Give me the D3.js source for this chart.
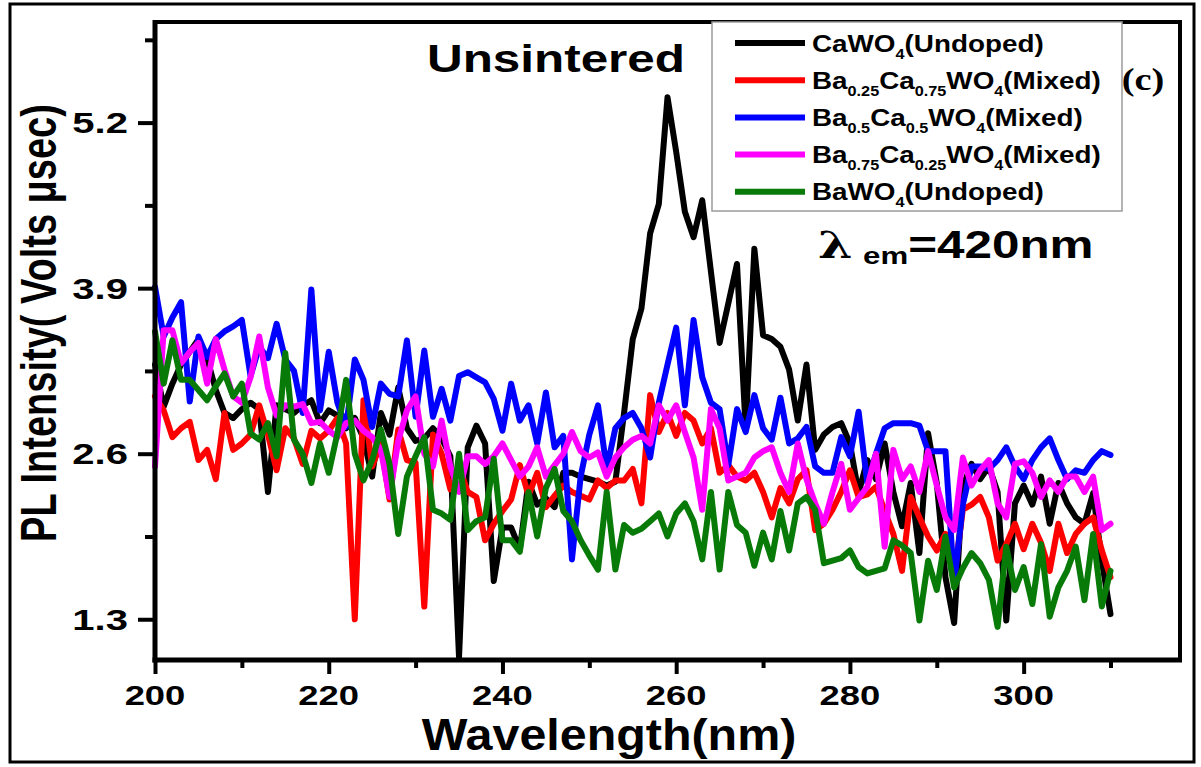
<!DOCTYPE html>
<html>
<head>
<meta charset="utf-8">
<script src="https://cdn.jsdelivr.net/npm/d3@7"></script>
<style>
  body { margin: 0; background: #fff; }
  svg { display: block; }
  text { font-family: "Liberation Sans", Arial, sans-serif; font-weight: bold; fill: #000; }
</style>
</head>
<body>
<svg id="chart" width="1201" height="767"></svg>
<script>
// Excitation wavelengths, 1 nm steps from 200 to 310 nm
const wavelengths = d3.range(200, 311);

// PL intensity (Volts µsec) for each sample, one value per wavelength
const caWO4 = [
  3.30, 2.97, 3.15, 3.30, 3.40, 3.50, 3.35, 3.10, 2.92, 2.88,
  2.95, 3.00, 2.95, 2.30, 2.98, 2.95, 2.92, 2.98, 3.02, 2.84,
  2.94, 2.90, 2.80, 2.88, 2.72, 2.42, 2.92, 2.75, 3.12, 2.80,
  2.70, 2.72, 2.80, 2.72, 2.58, 1.00, 2.65, 2.82, 2.68, 1.60,
  2.02, 2.02, 1.85, 2.38, 2.20, 2.25, 2.18, 2.45, 2.45, 2.42,
  2.40, 2.38, 2.35, 2.38, 2.92, 3.50, 3.74, 4.33, 4.56, 5.40,
  4.97, 4.50, 4.30, 4.59, 4.03, 3.47, 3.78, 4.09, 2.80, 4.21,
  3.53, 3.50, 3.44, 3.26, 2.86, 3.30, 2.63, 2.75, 2.81, 2.84,
  2.68, 2.29, 2.55, 2.40, 2.68, 2.30, 2.03, 2.37, 1.82, 2.76,
  2.37, 1.63, 1.27, 2.34, 2.52, 2.40, 2.50, 2.30, 1.29, 2.21,
  2.35, 2.20, 2.42, 2.05, 2.37, 2.21, 2.10, 2.05, 2.29, 1.76,
  1.34
];
const ba025 = [
  3.05, 2.94, 2.73, 2.80, 2.85, 2.55, 2.63, 2.40, 2.92, 2.63,
  2.68, 2.75, 2.98, 2.75, 2.47, 2.80, 2.72, 2.52, 2.78, 2.72,
  2.78, 2.88, 2.68, 1.30, 3.02, 2.50, 2.68, 2.24, 2.79, 2.55,
  2.53, 1.40, 2.75, 2.60, 2.32, 2.50, 2.30, 2.26, 1.92, 2.05,
  2.15, 2.24, 2.51, 2.27, 2.45, 2.18, 2.27, 2.35, 2.30, 2.27,
  2.24, 2.39, 2.33, 2.39, 2.39, 2.48, 2.21, 3.06, 2.77, 2.92,
  2.74, 2.92, 2.86, 2.68, 2.80, 2.45, 2.51, 2.42, 2.39, 2.45,
  2.30, 2.10, 2.33, 2.21, 2.40, 2.47, 2.00, 2.05, 2.16, 2.30,
  2.47, 2.26, 2.28, 2.34, 2.15, 1.97, 1.68, 2.26, 2.10, 1.95,
  1.84, 1.97, 1.63, 2.16, 2.20, 2.26, 2.10, 1.76, 1.89, 2.05,
  1.85, 2.05, 1.90, 1.68, 2.05, 1.82, 1.97, 2.05, 2.10, 1.84,
  1.63
];
const ba05 = [
  3.91, 3.52, 3.67, 3.79, 3.01, 3.52, 3.36, 3.50, 3.56, 3.60,
  3.65, 3.21, 3.44, 3.35, 3.62, 3.34, 3.25, 2.92, 3.89, 2.94,
  3.40, 3.00, 2.81, 3.34, 3.18, 2.81, 3.15, 3.07, 3.05, 3.49,
  2.89, 3.41, 2.89, 3.11, 2.86, 3.21, 3.24, 3.20, 3.16, 3.03,
  2.78, 3.15, 2.86, 2.98, 2.68, 3.08, 2.65, 2.74, 1.77, 2.42,
  2.75, 2.98, 2.48, 2.80, 2.88, 2.92, 2.80, 2.57, 3.00, 3.30,
  3.59, 2.98, 3.65, 3.20, 3.00, 2.95, 2.51, 2.95, 2.77, 3.06,
  2.80, 2.71, 3.04, 2.68, 2.72, 2.81, 2.50, 2.45, 2.45, 2.73,
  2.58, 2.93, 2.37, 2.60, 2.80, 2.84, 2.84, 2.84, 2.82, 2.62,
  2.62, 2.62, 1.58, 2.20, 2.50, 2.50, 2.48, 2.55, 2.65, 2.50,
  2.40, 2.55, 2.65, 2.72, 2.55, 2.40, 2.47, 2.45, 2.55, 2.62,
  2.59
];
const ba075 = [
  2.50, 3.57, 3.57, 3.31, 3.40, 3.47, 3.15, 3.50, 3.26, 3.05,
  3.00, 3.20, 3.52, 3.12, 2.90, 2.98, 2.97, 2.99, 2.84, 2.85,
  2.78, 2.73, 2.84, 2.86, 2.78, 2.73, 2.63, 2.26, 2.70, 2.94,
  3.05, 2.60, 2.50, 2.86, 2.50, 2.30, 2.58, 2.58, 2.52, 2.58,
  2.68, 2.55, 2.42, 2.50, 2.65, 2.42, 2.51, 2.60, 2.77, 2.62,
  2.57, 2.61, 2.42, 2.57, 2.65, 2.71, 2.74, 2.68, 2.98, 2.86,
  2.98, 2.77, 2.57, 2.16, 2.95, 2.80, 2.39, 2.42, 2.45, 2.57,
  2.62, 2.65, 2.45, 2.30, 2.68, 2.40, 2.21, 2.05, 2.30, 2.52,
  2.16, 2.25, 2.34, 2.60, 1.87, 2.63, 2.40, 2.50, 2.30, 2.62,
  2.35, 2.10, 2.00, 2.57, 2.35, 2.47, 2.55, 2.21, 2.10, 2.52,
  2.54, 2.45, 2.26, 2.39, 2.30, 2.42, 2.42, 2.30, 2.42, 2.00,
  2.05
];
const baWO4 = [
  3.56, 3.15, 3.49, 3.18, 3.18, 3.10, 3.02, 3.13, 3.23, 3.05,
  3.15, 2.76, 2.71, 2.84, 2.58, 3.39, 2.71, 2.60, 2.37, 2.68,
  2.45, 2.76, 3.18, 2.60, 2.39, 2.55, 2.79, 2.52, 1.97, 2.42,
  2.58, 2.73, 2.16, 2.13, 2.08, 2.60, 2.00, 2.07, 2.10, 2.56,
  1.92, 1.92, 1.83, 2.30, 1.95, 2.33, 2.48, 2.15, 2.07, 1.92,
  1.80, 1.69, 2.30, 1.69, 2.04, 1.98, 2.01, 2.07, 2.13, 1.95,
  2.13, 2.21, 2.07, 1.77, 2.30, 1.69, 2.30, 2.04, 1.98, 1.72,
  1.98, 1.77, 2.15, 1.84, 2.21, 2.26, 2.16, 1.74, 1.76, 1.78,
  1.84, 1.71, 1.66, 1.68, 1.70, 1.92, 1.88, 1.82, 1.29, 1.76,
  1.53, 1.95, 1.55, 1.70, 1.82, 1.74, 1.61, 1.24, 1.87, 1.53,
  1.71, 1.42, 1.89, 1.32, 1.55, 1.68, 1.87, 1.45, 1.97, 1.40,
  1.68
];

// Series labels (subscript parts marked with sub) and colours
const seriesNames = [
  [["CaWO"], ["4", "sub"], ["(Undoped)"]],
  [["Ba"], ["0.25", "sub"], ["Ca"], ["0.75", "sub"], ["WO"], ["4", "sub"], ["(Mixed)"]],
  [["Ba"], ["0.5", "sub"], ["Ca"], ["0.5", "sub"], ["WO"], ["4", "sub"], ["(Mixed)"]],
  [["Ba"], ["0.75", "sub"], ["Ca"], ["0.25", "sub"], ["WO"], ["4", "sub"], ["(Mixed)"]],
  [["BaWO"], ["4", "sub"], ["(Undoped)"]]
];
const seriesValues = [caWO4, ba025, ba05, ba075, baWO4];
const seriesColors = ["#000000", "#ff0000", "#0000ff", "#ff00ff", "#087a08"];

// Axis ticks
const xMajorTicks = [200, 220, 240, 260, 280, 300];
const xMinorTicks = [210, 230, 250, 270, 290, 310];
const yMajorTicks = [1.3, 2.6, 3.9, 5.2];
const yMinorTicks = [1.95, 3.25, 4.55, 5.85];

const svg = d3.select("#chart");
const plot = { left: 155, right: 1180, top: 22, bottom: 660 };

const x = d3.scaleLinear().domain([200, 318]).range([plot.left, plot.right]);
const y = d3.scaleLinear().domain([0.98, 5.99]).range([plot.bottom, plot.top]);

// Outer picture border
svg.append("rect")
  .attr("x", 10).attr("y", 4).attr("width", 1184).attr("height", 758)
  .attr("fill", "#fff").attr("stroke", "#000").attr("stroke-width", 3);

// Text drawn with a horizontal stretch factor
function stretchedText(parent, tx, ty, sx, size, anchor) {
  return parent.append("g")
    .attr("transform", `translate(${tx},${ty}) scale(${sx},1)`)
    .append("text")
    .attr("font-size", size)
    .attr("text-anchor", anchor);
}

// Data lines
const line = d3.line()
  .x((d, i) => x(wavelengths[i]))
  .y(d => y(d));

const lines = svg.append("g");
seriesValues.forEach((vals, k) => {
  lines.append("path")
    .datum(vals)
    .attr("d", line)
    .attr("fill", "none")
    .attr("stroke", seriesColors[k])
    .attr("stroke-width", 6)
    .attr("stroke-linejoin", "round")
    .attr("stroke-linecap", "round");
});

// Plot frame (top and right)
svg.append("path")
  .attr("d", `M${plot.left},${plot.top}H${plot.right}V${plot.bottom}`)
  .attr("fill", "none").attr("stroke", "#000").attr("stroke-width", 4);

// Y axis
const yAxisMajor = d3.axisLeft(y).tickValues(yMajorTicks).tickSize(17).tickSizeOuter(0).tickFormat("");
const yAxisMinor = d3.axisLeft(y).tickValues(yMinorTicks).tickSize(10).tickSizeOuter(0).tickFormat("");
[yAxisMajor, yAxisMinor].forEach(ax => {
  const g = svg.append("g").attr("transform", `translate(${plot.left},0)`).call(ax);
  g.select(".domain").remove();
  g.selectAll(".tick line").attr("stroke", "#000").attr("stroke-width", 4);
});
svg.append("line")
  .attr("x1", plot.left).attr("x2", plot.left)
  .attr("y1", plot.top - 2).attr("y2", plot.bottom + 2.5)
  .attr("stroke", "#000").attr("stroke-width", 5);
yMajorTicks.forEach(v => {
  stretchedText(svg, 128, y(v) + 10.5, 1.38, 29, "end").text(d3.format(".1f")(v));
});

// X axis
const xAxisMajor = d3.axisBottom(x).tickValues(xMajorTicks).tickSize(14).tickSizeOuter(0).tickFormat("");
const xAxisMinor = d3.axisBottom(x).tickValues(xMinorTicks).tickSize(8).tickSizeOuter(0).tickFormat("");
[xAxisMajor, xAxisMinor].forEach(ax => {
  const g = svg.append("g").attr("transform", `translate(0,${plot.bottom})`).call(ax);
  g.select(".domain").remove();
  g.selectAll(".tick line").attr("stroke", "#000").attr("stroke-width", 4);
});
svg.append("line")
  .attr("x1", plot.left - 2.5).attr("x2", plot.right + 2)
  .attr("y1", plot.bottom).attr("y2", plot.bottom)
  .attr("stroke", "#000").attr("stroke-width", 5);
xMajorTicks.forEach(v => {
  stretchedText(svg, x(v), 705, 1.3, 28, "middle").text(v);
});

// Axis titles
stretchedText(svg, 609, 750, 1.1, 44, "middle").text("Wavelength(nm)");
svg.append("g")
  .attr("transform", "translate(56,323) scale(1.3,1) rotate(-90)")
  .append("text")
  .attr("font-size", 38)
  .attr("text-anchor", "middle")
  .text("PL Intensity( Volts μsec)");

// Sample state label
stretchedText(svg, 556, 72, 1.3, 38, "middle").text("Unsintered");

// Emission wavelength label
const em = stretchedText(svg, 818, 258, 1.3, 38, "start");
em.append("tspan").attr("font-family", "DejaVu Serif, serif").text("λ");
em.append("tspan").attr("font-size", 24).attr("dx", 8).attr("dy", 6).text("em");
em.append("tspan").attr("dy", -6).text("=420nm");

// Legend
const legend = svg.append("g");
legend.append("rect")
  .attr("x", 712).attr("y", 22).attr("width", 410).attr("height", 189)
  .attr("fill", "#fff").attr("stroke", "#9a9a9a").attr("stroke-width", 1.5);
seriesNames.forEach((parts, k) => {
  const cy = 43 + k * 37.2;
  legend.append("line")
    .attr("x1", 735).attr("x2", 805).attr("y1", cy).attr("y2", cy)
    .attr("stroke", seriesColors[k]).attr("stroke-width", 6);
  const t = stretchedText(legend, 812, cy + 8.5, 1.16, 24, "start");
  let shifted = false;
  parts.forEach(([s, kind]) => {
    const ts = t.append("tspan").text(s);
    if (kind === "sub") {
      ts.attr("font-size", 14).attr("dy", shifted ? 0 : 7);
      shifted = true;
    } else {
      ts.attr("dy", shifted ? -7 : 0);
      shifted = false;
    }
  });
});

// Panel letter
const panel = stretchedText(svg, 1143, 90, 1.2, 32, "middle")
  .style("font-family", "'Liberation Serif', 'Times New Roman', serif")
  .text("(c)");
</script>
</body>
</html>
